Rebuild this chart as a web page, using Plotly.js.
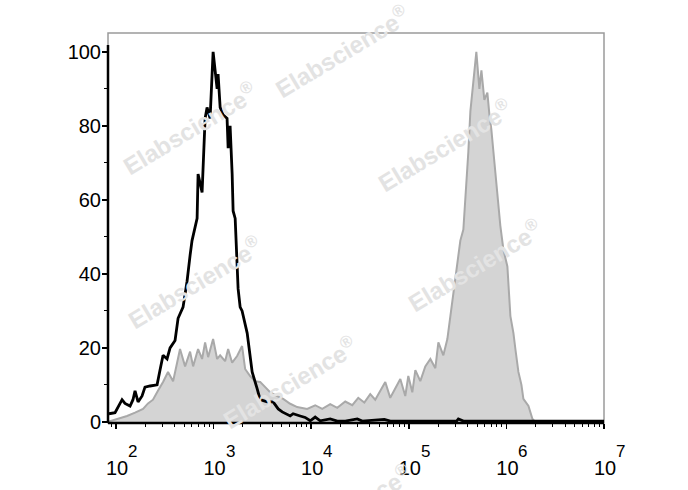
<!DOCTYPE html>
<html>
<head>
<meta charset="utf-8">
<script src="https://cdn.plot.ly/plotly-3.0.1.min.js"></script>
<style>html,body{margin:0;padding:0;background:#fff;}#chart{width:688px;height:490px;}</style>
</head>
<body>
<div id="chart"></div>
<script>
// Control (black line): log10 of fluorescence and % of max
const controlLog = [1.928,1.99,2.062,2.092,2.144,2.174,2.195,2.226,2.267,2.297,2.349,2.421,2.451,2.482,2.523,2.554,2.605,2.636,2.687,2.728,2.759,2.779,2.831,2.841,2.882,2.913,2.933,2.964,2.995,3.015,3.036,3.046,3.067,3.097,3.138,3.149,3.169,3.19,3.2,3.221,3.231,3.251,3.272,3.292,3.344,3.395,3.446,3.477,3.549,3.61,3.662,3.703,3.785,3.815,3.887,3.938,3.99,4.041,4.092,4.195,4.267,4.349,4.472,4.523,4.749,4.81,5.49,5.508,5.559,7.0];
const controlPct = [2.2,2.5,6,5,4.3,6,8.4,5.4,7,9.4,9.7,10,14,18,17,20,22,28,31,38,45,49,55,67,62,82,85,82,100,94,90,94,85,83,82,74,80,67,57,55,49,36,31,30,24,13.5,9,6,5.4,5.4,3.5,2.7,1.6,2.2,1.6,1.2,0.3,1.3,0.3,0.8,0.2,0.2,0.8,0.2,0.7,0.2,0.2,0.8,0.2,0.2];

// Stained sample (gray filled)
const stainLog = [1.918,2.02,2.113,2.195,2.277,2.328,2.379,2.431,2.482,2.533,2.585,2.626,2.656,2.708,2.759,2.79,2.841,2.882,2.913,2.944,2.995,3.036,3.067,3.118,3.149,3.19,3.241,3.292,3.323,3.374,3.426,3.477,3.528,3.579,3.651,3.713,3.785,3.856,3.959,4.041,4.113,4.195,4.267,4.349,4.421,4.482,4.544,4.605,4.656,4.708,4.759,4.81,4.862,4.913,4.964,4.995,5.036,5.067,5.118,5.169,5.221,5.272,5.303,5.354,5.395,5.426,5.456,5.497,5.528,5.559,5.579,5.61,5.631,5.662,5.692,5.723,5.744,5.774,5.805,5.826,5.846,5.867,5.887,5.908,5.938,5.969,6.01,6.041,6.072,6.092,6.123,6.154,6.174,6.226,6.267,6.297,7.0];
const stainPct = [0,0.8,1.6,2.5,3.5,5,6,8.5,10.8,13.5,11,16,19.7,15,19,15,19.7,17,21.5,17.5,22.4,17,18,16.4,19.7,16,17.8,20.5,14.3,12.4,11,10.8,9.4,8,7,6.2,4.9,4,3.5,4.5,3.5,4.8,3.8,5.5,4.5,6.5,5.2,7.5,6,8.5,10.8,6.5,8.9,11.6,7,12.4,8,14,11,15,17,14.5,21.5,18,22.4,28.6,35,42,49,52,60,73,84,92,100,90,95,87,89,83,79,73,67,60,53,46.6,42,28.6,24,19.7,13.5,10,6.2,4.3,0.8,0,0];

const yTicks = [0,20,40,60,80,100];
const xTickExp = [2,3,4,5,6,7];
const watermark = "Elabscience<sup>®</sup>";

const pow10 = a => a.map(v => Math.pow(10, v));
const FONT = 'Liberation Sans, Arial, sans-serif';

const traces = [
  {x: pow10(stainLog), y: stainPct, type: 'scatter', mode: 'lines', fill: 'tozeroy',
   fillcolor: '#d4d4d4', line: {color: '#a9a9a9', width: 2}, hoverinfo: 'skip'},
  {x: pow10(controlLog), y: controlPct, type: 'scatter', mode: 'lines',
   line: {color: '#000', width: 2.8}, hoverinfo: 'skip'}
];

const minorVals = [];
for (let d = 1; d < 7; d++) for (let m = 2; m <= 9; m++) minorVals.push(m * Math.pow(10, d));

const wmPos = [[0.472,0.955],[0.165,0.756],[0.679,0.713],[0.175,0.362],[0.74,0.405],[0.367,0.105],[0.478,-0.223]];
const annotations = wmPos.map(p => ({
  xref: 'paper', yref: 'paper', x: p[0], y: p[1], xanchor: 'center', yanchor: 'middle',
  text: watermark, showarrow: false,
  textangle: -31, font: {family: FONT, size: 24, color: '#e3e3e3', weight: 'bold'}
}));
// exponents of the x tick labels (10^n)
xTickExp.forEach(e => annotations.push({
  xref: 'x', yref: 'paper', x: e, y: -0.072, xanchor: 'left', yanchor: 'middle', xshift: 10,
  text: String(e), showarrow: false, font: {family: FONT, size: 17, color: '#000'}
}));

const layout = {
  width: 688, height: 490,
  margin: {l: 108, r: 84, t: 33, b: 67},
  paper_bgcolor: '#fff', plot_bgcolor: '#fff',
  showlegend: false,
  font: {family: FONT, color: '#000'},
  xaxis: {
    type: 'log', range: [1.918, 7.0], showgrid: false, zeroline: false, showline: false,
    tickmode: 'array', tickvals: pow10(xTickExp), ticktext: xTickExp.map(() => '10'),
    ticks: 'outside', ticklen: 5, tickwidth: 1.5, tickcolor: '#000',
    tickfont: {size: 20, color: '#000'}, ticklabelstandoff: 22, ticklabelshift: 1,
    minor: {tickmode: 'array', tickvals: minorVals, ticks: 'outside', ticklen: 3, tickcolor: '#000', tickwidth: 1}
  },
  yaxis: {
    range: [-0.3, 105.1], showgrid: false, zeroline: false, showline: false,
    tickmode: 'array', tickvals: yTicks,
    ticks: 'outside', ticklen: 5, tickwidth: 1.5, tickcolor: '#000',
    tickfont: {size: 20, color: '#000'}, ticklabelstandoff: -3,
    minor: {dtick: 10, ticks: 'outside', ticklen: 3, tickcolor: '#000', tickwidth: 1}
  },
  shapes: [
    {type: 'rect', xref: 'paper', yref: 'paper', x0: 0, x1: 1, y0: 0, y1: 1, layer: 'below',
     line: {color: '#9a9a9a', width: 1.5}},
    {type: 'line', xref: 'paper', yref: 'paper', x0: 0, x1: 0, y0: 0, y1: 0.969,
     line: {color: '#000', width: 2.5}},
    {type: 'line', xref: 'paper', yref: 'paper', x0: 0, x1: 1, y0: 0, y1: 0,
     line: {color: '#000', width: 2.5}}
  ],
  annotations: annotations
};

Plotly.newPlot('chart', traces, layout, {displayModeBar: false, staticPlot: true});
</script>
</body>
</html>
